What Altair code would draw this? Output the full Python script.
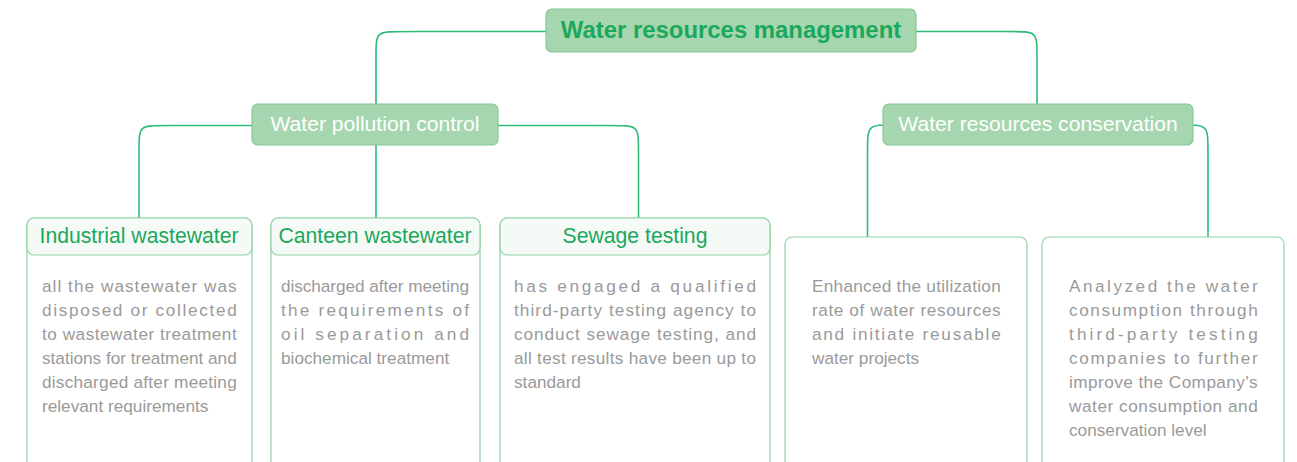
import altair as alt
import pandas as pd

# ---- content ----
top_labels = ["Water resources management", "Water pollution control", "Water resources conservation"]
top_x0 = [546, 252, 883]
top_x1 = [916, 498, 1193]
top_y0 = [9, 104, 104]
top_y1 = [52, 145, 145]

card_titles = ["Industrial wastewater", "Canteen wastewater", "Sewage testing", "", ""]
card_x0 = [27, 271, 500, 785, 1042]
card_x1 = [252, 480, 770, 1027, 1284]
card_y0 = [218, 218, 218, 237, 237]
card_head_y1 = [255, 255, 255, None, None]
card_title_x = [139, 375, 635, None, None]
card_text_x = [42, 281, 514, 812, 1069]
card_text_right = [236.7, 469, 756, 1000.7, 1257.7]
card_lines = [
    ["all the wastewater was", "disposed or collected", "to wastewater treatment",
     "stations for treatment and", "discharged after meeting", "relevant requirements"],
    ["discharged after meeting", "the requirements of", "oil separation and",
     "biochemical treatment"],
    ["has engaged a qualified", "third-party testing agency to", "conduct sewage testing, and",
     "all test results have been up to", "standard"],
    ["Enhanced the utilization", "rate of water resources", "and initiate reusable",
     "water projects"],
    ["Analyzed the water", "consumption through", "third-party testing",
     "companies to further", "improve the Company's", "water consumption and",
     "conservation level"],
]

# connectors: start x, level y, corner x, end y
conn_x0 = [546, 916, 252, 498, 883, 1193]
conn_y0 = [31.5, 31.5, 125.5, 125.5, 125, 125]
conn_xc = [376, 1037, 139, 638.5, 867.5, 1208]
conn_y1 = [104, 104, 218, 218, 237, 237]
straight = [(376, 145, 218)]

GREEN_LINE = "#2dbb78"
BOX_FILL = "#a6d6af"
BOX_STROKE = "#86c896"
CARD_STROKE = "#8fd3a3"
TITLE_GREEN = "#1ba85c"
FONT = "Liberation Sans"
BODY_FS = 17.2

# Arial / Liberation Sans advance widths (1/1000 em) used to justify body lines
ADV = dict(zip("abcdefghijklmnopqrstuvwxyz",
               [556, 556, 500, 556, 556, 278, 556, 556, 222, 222, 500, 222, 833,
                556, 556, 556, 556, 333, 500, 278, 556, 500, 722, 500, 500, 500]))
ADV.update({"A": 667, "C": 722, "E": 667, " ": 278, ",": 278, "-": 333, "'": 191})

# ---- build tables ----
rows = []
r = 20
for i, (x0, y0, xc, y1) in enumerate(zip(conn_x0, conn_y0, conn_xc, conn_y1)):
    s = 1 if x0 > xc else -1
    pts = [(x0, y0), (xc + s * r, y0), (xc, y0), (xc, y0 + r), (xc, y1)]
    for k, (px, py) in enumerate(pts):
        rows.append({"id": f"c{i}", "k": k, "x": px, "y": py})
for j, (xs, ya, yb) in enumerate(straight):
    rows.append({"id": f"s{j}", "k": 0, "x": xs, "y": ya})
    rows.append({"id": f"s{j}", "k": 1, "x": xs, "y": yb})
conn_df = pd.DataFrame(rows)

top_df = pd.DataFrame({"label": top_labels, "x0": top_x0, "x1": top_x1, "y0": top_y0, "y1": top_y1})
top_df["xm"] = (top_df.x0 + top_df.x1) / 2
top_df["ym"] = (top_df.y0 + top_df.y1) / 2

body_df = pd.DataFrame({"x0": card_x0, "x1": card_x1, "y0": card_y0, "y1": [476] * 5})
head_df = pd.DataFrame({"x0": card_x0[:3], "x1": card_x1[:3], "y0": card_y0[:3], "y1": card_head_y1[:3],
                        "t": card_titles[:3], "tx": card_title_x[:3]})
head_df["ym"] = (head_df.y0 + head_df.y1) / 2 + 0.5

# justified body text: one glyph per row, extra space spread between glyphs
trows = []
for c, lines in enumerate(card_lines):
    left, right = card_text_x[c], card_text_right[c]
    for i, ln in enumerate(lines):
        y = 287 + 24 * i
        widths = [ADV.get(ch, 556) * BODY_FS / 1000 for ch in ln]
        natural = sum(widths)
        last = i == len(lines) - 1
        extra = 0 if last else (right - left - natural) / max(len(ln) - 1, 1)
        pos = left
        for ch, w in zip(ln, widths):
            if ch != " ":
                trows.append({"x": pos, "y": y, "t": ch})
            pos += w + extra
text_df = pd.DataFrame(trows)

X = alt.Scale(domain=[8, 1289])
Y = alt.Scale(domain=[8, 454], reverse=True)
noax = dict(axis=None)

lines = alt.Chart(conn_df).mark_line(interpolate="basis", color=GREEN_LINE, strokeWidth=1.6).encode(
    x=alt.X("x:Q", scale=X, **noax), y=alt.Y("y:Q", scale=Y, **noax), detail="id:N", order="k:Q")

bodies = alt.Chart(body_df).mark_rect(fill="white", stroke=CARD_STROKE, strokeWidth=1.2,
                                      cornerRadius=7, clip=False).encode(
    x=alt.X("x0:Q", scale=X, **noax), x2="x1:Q",
    y=alt.Y("y0:Q", scale=Y, **noax), y2="y1:Q")

heads = alt.Chart(head_df).mark_rect(fill="#f6faf7", stroke=CARD_STROKE, strokeWidth=1.2,
                                     cornerRadius=7).encode(
    x=alt.X("x0:Q", scale=X, **noax), x2="x1:Q",
    y=alt.Y("y0:Q", scale=Y, **noax), y2="y1:Q")

head_text = alt.Chart(head_df).mark_text(font=FONT, fontSize=21.2, color=TITLE_GREEN,
                                         align="center", baseline="middle").encode(
    x=alt.X("tx:Q", scale=X, **noax), y=alt.Y("ym:Q", scale=Y, **noax), text="t:N")

tops = alt.Chart(top_df).mark_rect(fill=BOX_FILL, stroke=BOX_STROKE, strokeWidth=1.2,
                                   cornerRadius=6).encode(
    x=alt.X("x0:Q", scale=X, **noax), x2="x1:Q",
    y=alt.Y("y0:Q", scale=Y, **noax), y2="y1:Q")

root_text = alt.Chart(top_df.iloc[[0]]).mark_text(font=FONT, fontSize=23.9, fontWeight="bold",
                                                 color=TITLE_GREEN, align="center",
                                                 baseline="middle").encode(
    x=alt.X("xm:Q", scale=X, **noax), y=alt.Y("ym:Q", scale=Y, **noax), text="label:N")

sub_text = alt.Chart(top_df.iloc[1:]).mark_text(font=FONT, fontSize=21.1, color="white",
                                               align="center", baseline="middle").encode(
    x=alt.X("xm:Q", scale=X, **noax), y=alt.Y("ym:Q", scale=Y, **noax), text="label:N")

body_text = alt.Chart(text_df).mark_text(font=FONT, fontSize=BODY_FS, color="#9a9a9a",
                                         align="left", baseline="middle").encode(
    x=alt.X("x:Q", scale=X, **noax), y=alt.Y("y:Q", scale=Y, **noax), text="t:N")

chart = alt.layer(lines, bodies, heads, head_text, tops, root_text, sub_text, body_text).properties(
    width=1281, height=446, padding=0, background="white"
).configure_view(strokeWidth=0)

chart.save("out.html", embed_options={"renderer": "svg", "actions": False})
